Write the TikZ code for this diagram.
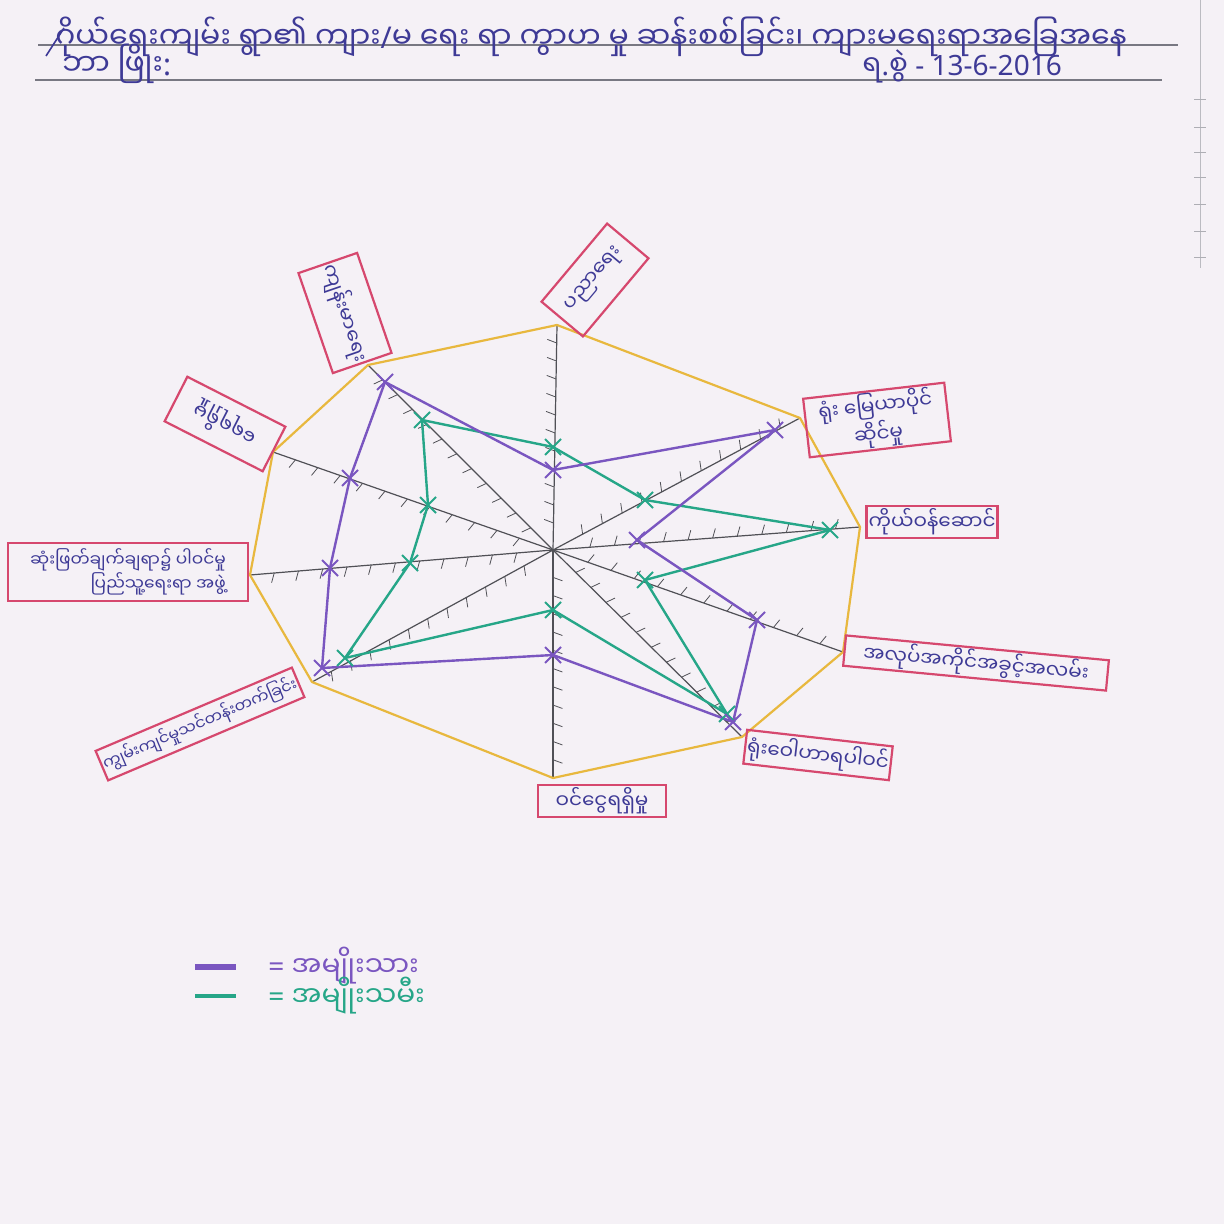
\documentclass[tikz,border=0pt]{standalone}
\usepackage{fontspec}
\newfontfamily\mya[Script=Myanmar]{Noto Sans Myanmar UI}
\newfontfamily\lat{Noto Sans}
\usetikzlibrary{calc}
\definecolor{paper}{RGB}{245,241,246}
\definecolor{ink}{RGB}{62,58,150}
\definecolor{boxpink}{RGB}{214,72,110}
\definecolor{ring}{RGB}{232,184,62}
\definecolor{mpurple}{RGB}{122,86,192}
\definecolor{mgreen}{RGB}{38,166,136}
\definecolor{axisgray}{RGB}{80,80,86}
\definecolor{rule}{RGB}{120,120,130}
\tikzset{xm/.pic={\draw[line width=1pt] (-4pt,-4pt)--(4pt,4pt) (-4pt,4pt)--(4pt,-4pt);}}
\begin{document}
\begin{tikzpicture}[x=0.5pt,y=-0.5pt,
  lbl/.style={draw=boxpink,line width=1.1pt,text=ink,font=\mya\fontsize{10}{11}\selectfont,inner sep=1pt,align=center},
  axisline/.style={axisgray,line width=0.6pt},
  tickmark/.style={axisgray,line width=0.4pt},
  ringline/.style={ring,line width=1.1pt,line join=round},
  hdr/.style={text=ink,font=\mya\fontsize{15}{16}\selectfont,inner sep=0pt}]
\useasboundingbox (0,0) rectangle (1224,1224);
\fill[paper] (0,0) rectangle (1224,1224);
% notebook margin
\draw[rule!50,line width=0.5pt] (1200,0) -- (1200,268);
\foreach \yy in {100,128,153,178,205,232,258}
  \draw[rule!60,line width=0.5pt] (1194,\yy) -- (1206,\yy);
% header
\draw[rule,line width=0.7pt] (38,45) -- (1178,45);
\draw[rule,line width=0.8pt] (35,80) -- (1162,80);
\node[hdr,anchor=base west] (h1) at (55,49) {ဂိုယ်ရေးကျမ်း ရွာ၏ ကျား{\lat /}မ ရေး ရာ ကွာဟ မှု ဆန်းစစ်ခြင်း၊ ကျားမရေးရာအခြေအနေ};
\draw[ink,line width=0.8pt] (46,56) -- (64,28);
\node[hdr,anchor=base west] (h2) at (62,76) {ဘာ ဖြိုး{\lat :}};
\node[hdr,anchor=base west,font=\mya\fontsize{14}{15}\selectfont] (h3) at (862,76) {ရ{\lat .}စွဲ {\lat - 13-6-2016}};
% radar geometry
\coordinate (C) at (553,550);
\coordinate (A1) at (557,325);
\coordinate (A2) at (800,418);
\coordinate (A3) at (860,527);
\coordinate (A4) at (843,652);
\coordinate (A5) at (742,737);
\coordinate (A6) at (553,778);
\coordinate (A7) at (312,682);
\coordinate (A8) at (250,575);
\coordinate (A9) at (273,452);
\coordinate (A10) at (368,365);
% purple data
\coordinate (p1) at (553,470);
\coordinate (p2) at (775,430);
\coordinate (p3) at (637,540);
\coordinate (p4) at (757,620);
\coordinate (p5) at (733,722);
\coordinate (p6) at (553,655);
\coordinate (p7) at (322,668);
\coordinate (p8) at (330,568);
\coordinate (p9) at (350,478);
\coordinate (p10) at (385,382);
% green data
\coordinate (g1) at (553,447);
\coordinate (g2) at (645,500);
\coordinate (g3) at (830,530);
\coordinate (g4) at (645,580);
\coordinate (g5) at (727,714);
\coordinate (g6) at (553,610);
\coordinate (g7) at (345,658);
\coordinate (g8) at (410,563);
\coordinate (g9) at (428,505);
\coordinate (g10) at (422,420);
% axes and ticks
\foreach \i in {1,...,10}{
  \draw[axisline] (C) -- (A\i);
  \foreach \t in {0.12,0.2,...,0.93}
    \draw[tickmark] ($(C)!\t!(A\i)$) -- ($(C)!\t!(A\i)!5pt!70:(A\i)$);
}
% outer ring
\draw[ringline] (A1)--(A2)--(A3)--(A4)--(A5)--(A6)--(A7)--(A8)--(A9)--(A10)--cycle;
% data polygons
\draw[mgreen,line width=1.2pt,line join=round] (g1)--(g2)--(g3)--(g4)--(g5)--(g6)--(g7)--(g8)--(g9)--(g10)--cycle;
\draw[mpurple,line width=1.2pt,line join=round] (p1)--(p2)--(p3)--(p4)--(p5)--(p6)--(p7)--(p8)--(p9)--(p10)--cycle;
\foreach \i in {1,...,10}{
  \pic[color=mgreen] at (g\i) {xm};
  \pic[color=mpurple] at (p\i) {xm};
}
% labels
\node[lbl,minimum width=51pt,minimum height=27pt,rotate=50] (L1) at (595,280) {ပညာရေး};
\node[lbl,minimum width=51pt,minimum height=31pt,rotate=-71] (L10) at (345,313) {ကျန်းမာရေး};
\node[lbl,minimum width=55pt,minimum height=25pt,rotate=153] (L9) at (225,424) {ရေရရှိမှု};
\node[lbl,minimum width=120pt,minimum height=29pt,align=right,font=\mya\fontsize{8.5}{10}\selectfont] (L8) at (128,572) {ဆုံးဖြတ်ချက်ချရာ၌ ပါဝင်မှု\\ပြည်သူ့ရေးရာ အဖွဲ့};
\node[lbl,minimum width=104pt,minimum height=16pt,rotate=23,font=\mya\fontsize{8}{9}\selectfont] (L7) at (200,724) {ကျွမ်းကျင်မှုသင်တန်းတက်ခြင်း};
\node[lbl,minimum width=64pt,minimum height=16pt] (L6) at (602,801) {ဝင်ငွေရရှိမှု};
\node[lbl,minimum width=72pt,minimum height=17pt,rotate=-6.5] (L5) at (818,755) {ရုံးဝေါဟာရပါဝင်};
\node[lbl,minimum width=132pt,minimum height=13pt,rotate=-5.4] (L4) at (976,663) {အလုပ်အကိုင်အခွင့်အလမ်း};
\node[lbl,minimum width=65pt,minimum height=16pt] (L3) at (932,522) {ကိုယ်ဝန်ဆောင်};
\node[lbl,minimum width=71pt,minimum height=29pt,rotate=6.5] (L2) at (877,420) {ရုံး မြေယာပိုင်\\ဆိုင်မှု};
% legend
\coordinate (lp1) at (195,967); \coordinate (lp2) at (236,967);
\coordinate (lg1) at (195,996); \coordinate (lg2) at (236,996);
\draw[mpurple,line width=2.6pt] (lp1) -- (lp2);
\draw[mgreen,line width=2pt] (lg1) -- (lg2);
\node[anchor=west,text=mpurple,font=\mya\fontsize{14}{15}\selectfont,inner sep=0pt] (lt1) at (268,966) {{\lat =} အမျိုးသား};
\node[anchor=west,text=mgreen,font=\mya\fontsize{14}{15}\selectfont,inner sep=0pt] (lt2) at (268,996) {{\lat =} အမျိုးသမီး};
\end{tikzpicture}
\end{document}
